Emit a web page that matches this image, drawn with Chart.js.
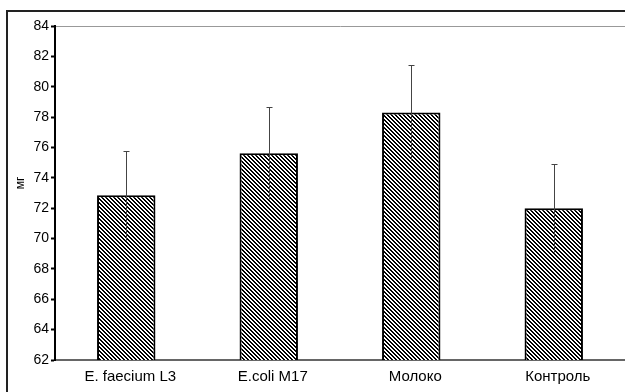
<!DOCTYPE html>
<html>
<head>
<meta charset="utf-8">
<script src="https://cdn.jsdelivr.net/npm/chart.js@4/dist/chart.umd.min.js"></script>
<style>
  html, body { margin: 0; padding: 0; background: #fff; }
  #wrap { width: 625px; height: 392px; }
</style>
</head>
<body>
<div id="wrap"><canvas id="c" width="625" height="392"></canvas></div>
<script>
// Groups and mean mass (mg) with standard deviation
const categories = ['E. faecium L3', 'E.coli M17', 'Молоко', 'Контроль'];
const means = [72.85, 75.62, 78.3, 72.0];
const deviations = [2.92, 3.03, 3.1, 2.88];
const yTicks = [62, 64, 66, 68, 70, 72, 74, 76, 78, 80, 82, 84];
const yTitle = 'мг';

// Diagonal hatch fill (\\\) built as a small pixel tile
function makeHatch() {
  const t = document.createElement('canvas');
  t.width = 4; t.height = 4;
  const g = t.getContext('2d');
  g.fillStyle = '#fff';
  g.fillRect(0, 0, 4, 4);
  g.fillStyle = '#000';
  for (let y = 0; y < 4; y++) {
    for (let x = 0; x < 4; x++) {
      if ((((x - y) % 4) + 4) % 4 < 2) g.fillRect(x, y, 1, 1);
    }
  }
  return g.createPattern(t, 'repeat');
}

const ctx = document.getElementById('c').getContext('2d');
const hatch = makeHatch();

// Frame around the whole figure
const framePlugin = {
  id: 'frame',
  beforeDraw(chart) {
    const c = chart.ctx;
    c.save();
    c.fillStyle = '#fff';
    c.fillRect(0, 0, chart.width, chart.height);
    c.strokeStyle = '#222';
    c.lineWidth = 2;
    c.strokeRect(7, 11, chart.width + 20, chart.height + 20);
    c.restore();
  }
};

// Error whiskers: line from mean-sd to mean+sd, cap on the upper end
const errorPlugin = {
  id: 'errors',
  afterDatasetsDraw(chart) {
    const c = chart.ctx;
    const meta = chart.getDatasetMeta(0);
    const ys = chart.scales.y;
    c.save();
    c.strokeStyle = '#444';
    c.lineWidth = 1;
    meta.data.forEach((bar, i) => {
      const x = Math.round(bar.x) + 0.5;
      const top = Math.round(ys.getPixelForValue(means[i] + deviations[i])) + 0.5;
      const bot = Math.round(ys.getPixelForValue(means[i] - deviations[i])) + 0.5;
      c.beginPath();
      c.moveTo(x, top);
      c.lineTo(x, bot);
      c.moveTo(x - 3, top);
      c.lineTo(x + 3, top);
      c.stroke();
    });
    c.restore();
  }
};

// Axis title drawn rotated beside the value axis
const titlePlugin = {
  id: 'ytitle',
  afterDraw(chart) {
    const c = chart.ctx;
    c.save();
    c.translate(21, 183);
    c.rotate(-Math.PI / 2);
    c.font = '12px "Liberation Sans", Arial, sans-serif';
    c.fillStyle = '#000';
    c.textAlign = 'center';
    c.textBaseline = 'middle';
    c.fillText(yTitle, 0, 0);
    c.restore();
  }
};

new Chart(ctx, {
  type: 'bar',
  data: {
    labels: categories,
    datasets: [{
      data: means,
      backgroundColor: hatch,
      borderColor: '#000',
      borderWidth: 2,
      borderSkipped: false,
      barPercentage: 0.41,
      categoryPercentage: 1.0
    }]
  },
  options: {
    responsive: false,
    animation: false,
    devicePixelRatio: 1,
    layout: { padding: { top: 26, left: 0, right: 0, bottom: 0 } },
    plugins: {
      legend: { display: false },
      tooltip: { enabled: false }
    },
    scales: {
      x: {
        grid: { display: false, drawTicks: false },
        border: { display: true, color: '#666', width: 2 },
        ticks: {
          padding: 8,
          labelOffset: 4,
          color: '#000',
          font: { family: '"Liberation Sans", Arial, sans-serif', size: 15 }
        },
        afterFit(scale) { scale.height = 32; }
      },
      y: {
        min: 62,
        max: 84,
        afterBuildTicks(scale) { scale.ticks = yTicks.map(v => ({ value: v })); },
        grid: {
          color: (c) => (c.tick && c.tick.value === 84 ? '#999' : 'rgba(0,0,0,0)'),
          lineWidth: 1,
          drawTicks: true,
          tickLength: 4,
          tickColor: '#000',
          tickWidth: 2
        },
        border: { display: true, color: '#000', width: 2 },
        ticks: {
          padding: 2,
          color: '#000',
          font: { family: '"Liberation Sans", Arial, sans-serif', size: 14 }
        },
        afterFit(scale) { scale.width = 55; }
      }
    }
  },
  plugins: [framePlugin, errorPlugin, titlePlugin]
});
</script>
</body>
</html>
